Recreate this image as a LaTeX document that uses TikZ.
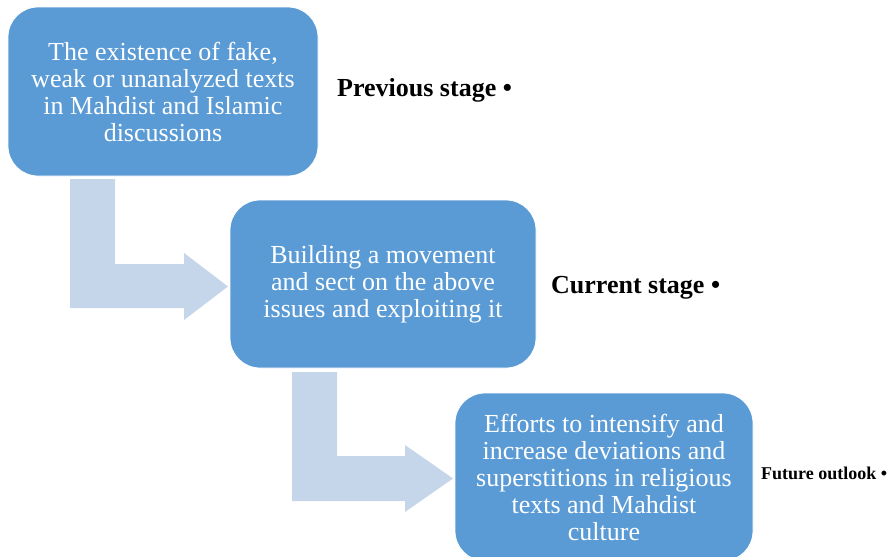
\documentclass[tikz,border=0pt]{standalone}
\usepackage{fontspec}
\setmainfont{Liberation Serif}
\definecolor{boxblue}{RGB}{91,155,213}
\definecolor{arrowblue}{RGB}{197,213,234}
\begin{document}
\begin{tikzpicture}[x=1pt,y=-1pt,
  stagebox/.style={draw=white, line width=0.8pt, fill=boxblue, rounded corners=30pt, text=white,
    align=center, inner sep=0pt, font=\fontsize{26}{27}\selectfont},
  bentarrow/.style={fill=arrowblue, draw=none},
  stagelabel/.style={anchor=base west, inner sep=0pt, font=\bfseries\fontsize{26}{27}\selectfont}]
\useasboundingbox (0,0) rectangle (892,557);
% bent arrows
\draw[bentarrow] (70,179) -- (115,179) -- (115,264) -- (184,264) -- (184,253) -- (228,286.5)
  -- (184,320) -- (184,308) -- (70,308) -- cycle;
\draw[bentarrow] (292,372) -- (337,372) -- (337,456) -- (405,456) -- (405,445) -- (453,478.5)
  -- (405,512) -- (405,501) -- (292,501) -- cycle;
% boxes
\node[stagebox, minimum width=310pt, minimum height=169pt] (b1) at (163,91.5)
  {The existence of fake,\\weak or unanalyzed texts\\in Mahdist and Islamic\\discussions};
\node[stagebox, minimum width=306pt, minimum height=168pt] (b2) at (383,284)
  {Building a movement\\and sect on the above\\issues and exploiting it};
\node[stagebox, minimum width=298pt, minimum height=168pt] (b3) at (604,477)
  {Efforts to intensify and\\increase deviations and\\superstitions in religious\\texts and Mahdist\\culture};
% labels
\node[stagelabel] (l1) at (337,96) {Previous stage •};
\node[stagelabel] (l2) at (551,293) {Current stage •};
\node[stagelabel, font=\bfseries\fontsize{18}{20}\selectfont] (l3) at (761,479) {Future outlook •};
\end{tikzpicture}
\end{document}
